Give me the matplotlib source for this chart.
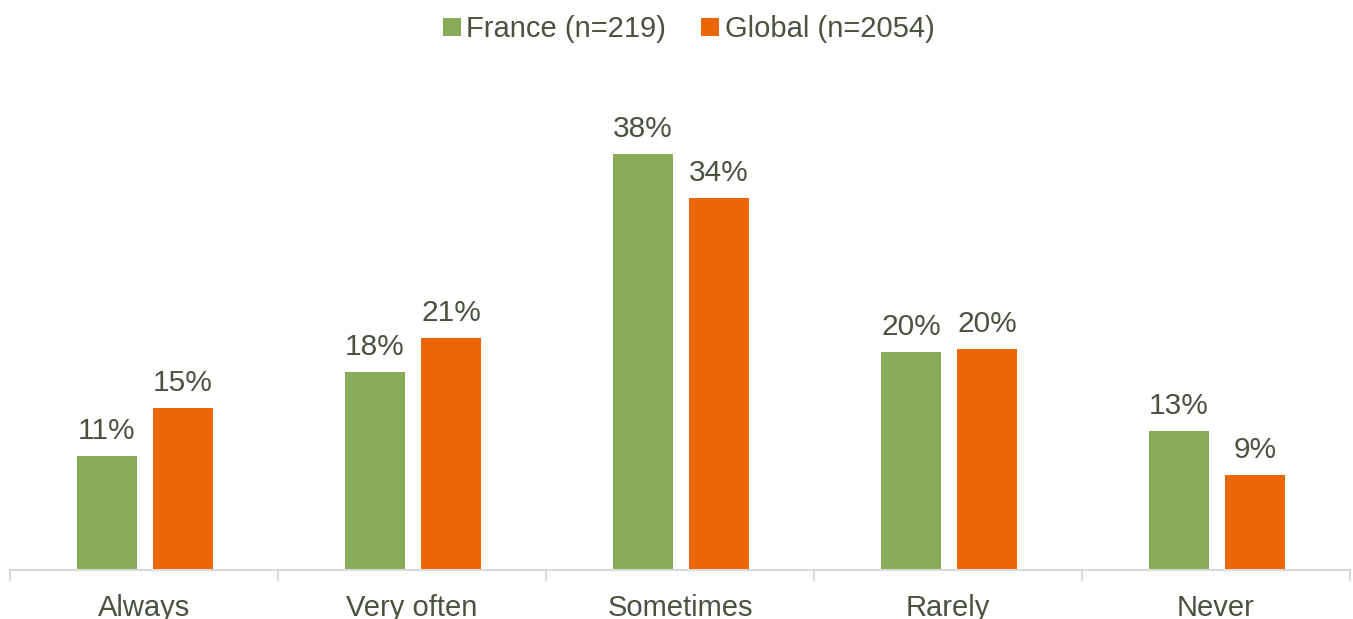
import matplotlib
matplotlib.use("Agg")
import matplotlib.pyplot as plt
import numpy as np

categories = ["Always", "Very often", "Sometimes", "Rarely", "Never"]
france = [10.4, 18.1, 38.0, 19.9, 12.7]
global_ = [14.8, 21.2, 34.0, 20.2, 8.7]
france_labels = ["11%", "18%", "38%", "20%", "13%"]
global_labels = ["15%", "21%", "34%", "20%", "9%"]
series_names = ["France (n=219)", "Global (n=2054)"]

GREEN = "#8aac5a"
ORANGE = "#ec6608"
TEXT = "#4a5240"

plt.rcParams['font.family'] = ['Liberation Sans', 'DejaVu Sans']

fig = plt.figure(figsize=(13.53, 6.19), dpi=100)
ax = fig.add_axes([10/1353, 49/619, 1340/1353, 438/619])

x = np.arange(len(categories))
w = 0.224
b1 = ax.bar(x - 0.138, france, w, color=GREEN, label=series_names[0])
b2 = ax.bar(x + 0.146, global_, w, color=ORANGE, label=series_names[1])

for bars, vals, labs in ((b1, france, france_labels), (b2, global_, global_labels)):
    for r, v, lab in zip(bars, vals, labs):
        ax.annotate(lab, (r.get_x() + r.get_width()/2, v),
                    xytext=(0, 8), textcoords="offset points",
                    ha="center", va="bottom", fontsize=21.5, color=TEXT)

ax.set_xlim(-0.5, len(categories) - 0.5)
ax.set_ylim(0, 40)
ax.set_yticks([])
for s in ("top", "right", "left"):
    ax.spines[s].set_visible(False)
ax.spines["bottom"].set_color("#d9d9d9")
ax.spines["bottom"].set_linewidth(1.5)
ax.set_xticks(np.arange(len(categories) + 1) - 0.5, minor=True)
ax.set_xticks(x)
ax.set_xticklabels(categories, fontsize=21, color=TEXT)
ax.tick_params(axis="x", which="major", length=0, pad=17)
ax.tick_params(axis="x", which="minor", length=8, width=1.5, color="#d9d9d9")

leg = fig.legend(handles=[b1, b2], labels=series_names, loc="upper center",
                 bbox_to_anchor=(0.509, 1.018), ncol=2, frameon=False,
                 fontsize=21, handlelength=0.6, handleheight=0.6,
                 handletextpad=0.2, columnspacing=1.2)
for t in leg.get_texts():
    t.set_color(TEXT)

fig.savefig("out.png", dpi=100)
